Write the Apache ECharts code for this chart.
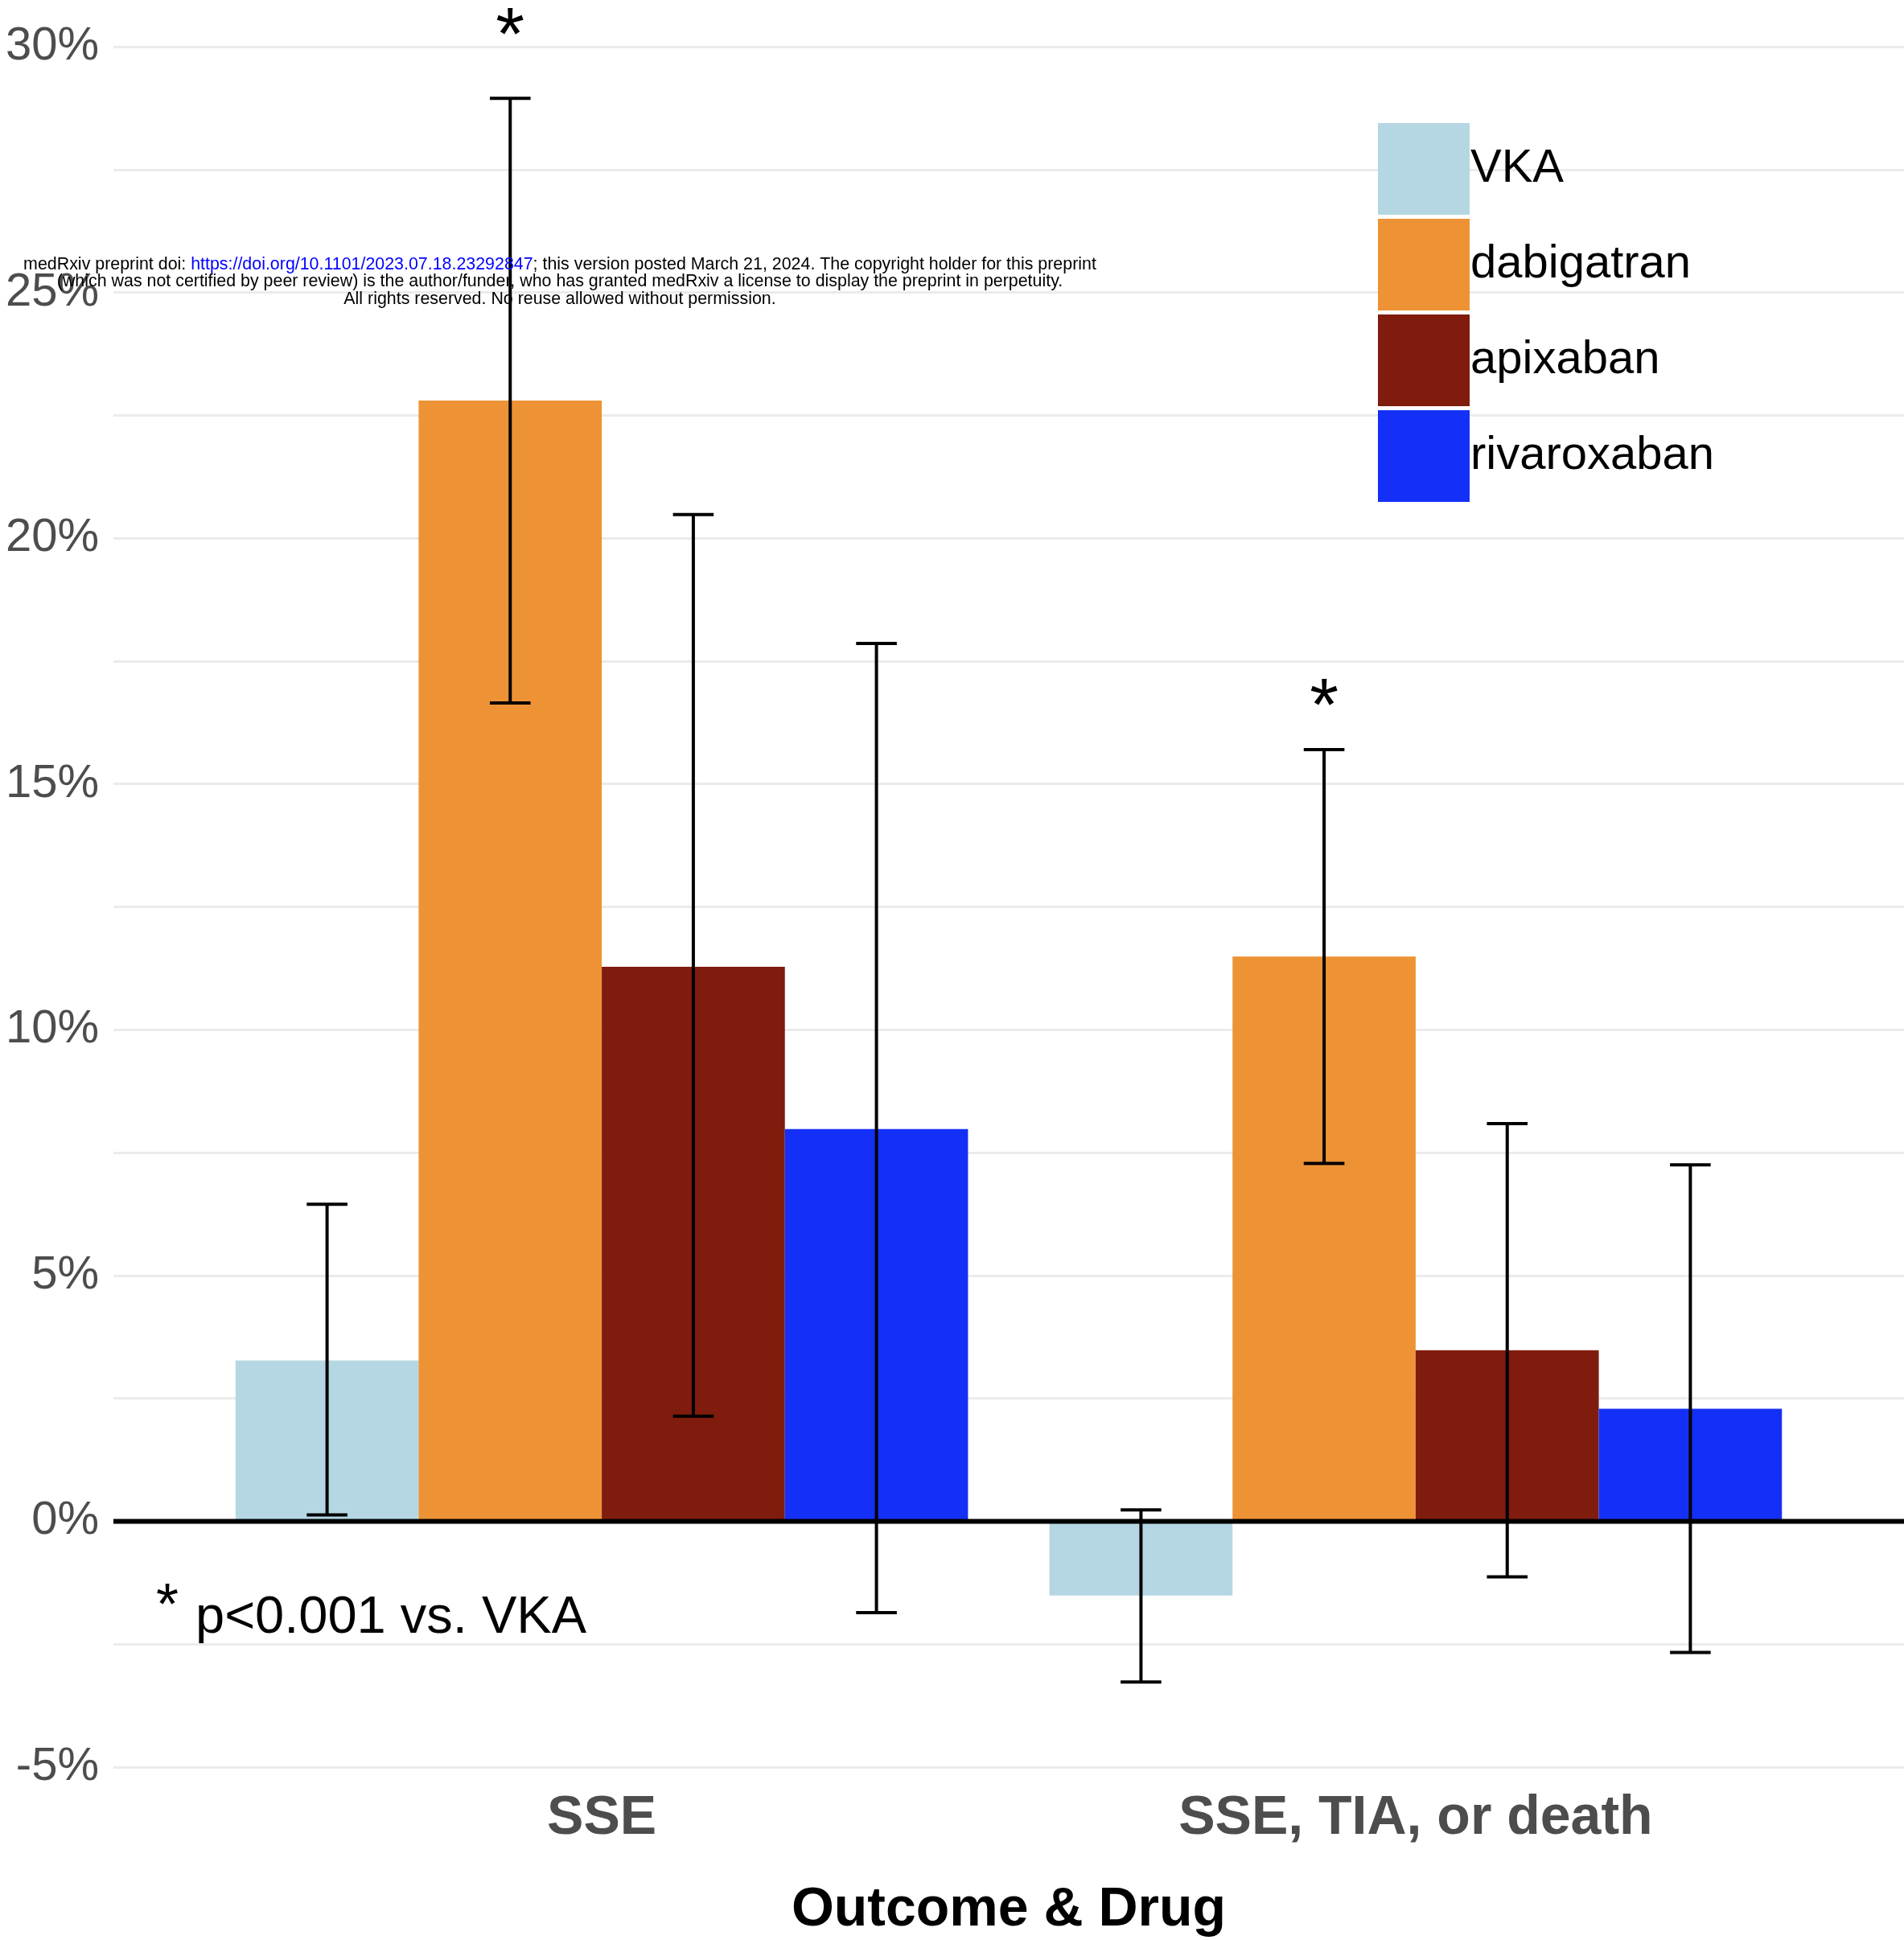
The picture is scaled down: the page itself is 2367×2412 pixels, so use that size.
<!DOCTYPE html>
<html>
<head>
<meta charset="utf-8">
<script src="https://cdn.jsdelivr.net/npm/echarts@6/dist/echarts.min.js"></script>
<style>html,body{margin:0;padding:0;background:#fff}#c{width:2367px;height:2412px}</style>
</head>
<body>
<div id="c"></div>
<script>
// ---- data ----
const categories = ['SSE', 'SSE, TIA, or death'];
const drugs = ['VKA', 'dabigatran', 'apixaban', 'rivaroxaban'];
const yTicks = [-5, 0, 5, 10, 15, 20, 25, 30];

const vka = [3.27, -1.51];
const dabigatran = [22.8, 11.49];
const apixaban = [11.28, 3.48];
const rivaroxaban = [7.98, 2.29];

const vkaLow = [0.13, -3.27];
const vkaHigh = [6.45, 0.23];
const dabigatranLow = [16.65, 7.28];
const dabigatranHigh = [28.95, 15.7];
const apixabanLow = [2.14, -1.13];
const apixabanHigh = [20.48, 8.09];
const rivaroxabanLow = [-1.86, -2.67];
const rivaroxabanHigh = [17.86, 7.25];

const starLabels = ['*', '*'];          // significance marks on dabigatran
const starY = [30.45, 16.8];

const noteText = 'p<0.001 vs. VKA';
const xTitle = 'Outcome & Drug';

// ---- build ----
const values = [vka, dabigatran, apixaban, rivaroxaban];
const lows = [vkaLow, dabigatranLow, apixabanLow, rivaroxabanLow];
const highs = [vkaHigh, dabigatranHigh, apixabanHigh, rivaroxabanHigh];
const colors = ['#b5d7e3', '#ee9335', '#7f1c0e', '#1430f7'];
const BW = 0.225;   // dodge width per bar (0.9 / 4)
const CAP = 0.05;   // error-bar cap width
const FONT = '"Liberation Sans", Arial, Helvetica, sans-serif';

function barRender(di) {
  return function (params, api) {
    const c = api.value(0) + (di - 1.5) * BW;
    const v = api.value(1);
    const p0 = api.coord([c - BW / 2, Math.max(v, 0)]);
    const p1 = api.coord([c + BW / 2, Math.min(v, 0)]);
    return {
      type: 'rect',
      shape: { x: p0[0], y: p0[1], width: p1[0] - p0[0], height: p1[1] - p0[1] },
      style: { fill: colors[di] }
    };
  };
}

const series = drugs.map((name, di) => ({
  name: name,
  type: 'custom',
  itemStyle: { color: colors[di] },
  renderItem: barRender(di),
  encode: { x: 0, y: 1 },
  data: categories.map((cat, ci) => [ci + 1, values[di][ci]]),
  z: 2
}));

series.push({
  name: 'zero',
  type: 'custom',
  silent: true,
  renderItem: function (params, api) {
    const y = api.coord([1, 0])[1];
    const cs = params.coordSys;
    return {
      type: 'line',
      shape: { x1: cs.x, y1: y, x2: cs.x + cs.width, y2: y },
      style: { stroke: '#000', lineWidth: 6 }
    };
  },
  data: [[1, 0]],
  z: 3
});

const errData = [];
drugs.forEach((d, di) => categories.forEach((c, ci) => {
  errData.push([ci + 1, di, lows[di][ci], highs[di][ci]]);
}));
series.push({
  name: 'errors',
  type: 'custom',
  silent: true,
  renderItem: function (params, api) {
    const c = api.value(0) + (api.value(1) - 1.5) * BW;
    const pHi = api.coord([c, api.value(3)]);
    const pLo = api.coord([c, api.value(2)]);
    const hw = api.size([CAP, 0])[0] / 2;
    const st = { stroke: '#000', lineWidth: 4 };
    return {
      type: 'group',
      children: [
        { type: 'line', shape: { x1: pHi[0], y1: pHi[1], x2: pLo[0], y2: pLo[1] }, style: st },
        { type: 'line', shape: { x1: pHi[0] - hw, y1: pHi[1], x2: pHi[0] + hw, y2: pHi[1] }, style: st },
        { type: 'line', shape: { x1: pLo[0] - hw, y1: pLo[1], x2: pLo[0] + hw, y2: pLo[1] }, style: st }
      ]
    };
  },
  encode: { x: 0, y: [2, 3] },
  data: errData,
  z: 4
});

series.push({
  name: 'stars',
  type: 'custom',
  silent: true,
  clip: false,
  renderItem: function (params, api) {
    const c = api.value(0) + (1 - 1.5) * BW;
    const p = api.coord([c, api.value(1)]);
    const fs = 92;
    return {
      type: 'text',
      x: p[0], y: p[1] + 0.2 * fs,
      style: { text: starLabels[params.dataIndex], fontSize: fs, fontFamily: FONT, fill: '#000', align: 'center', verticalAlign: 'middle' }
    };
  },
  encode: { x: 0, y: 1 },
  data: categories.map((c, ci) => [ci + 1, starY[ci]]),
  z: 5
});

const chart = echarts.init(document.getElementById('c'), null, { renderer: 'canvas' });
chart.setOption({
  animation: false,
  backgroundColor: '#ffffff',
  textStyle: { fontFamily: FONT },
  grid: { left: 141, right: 0, top: 58, bottom: 215, outerBoundsMode: 'none', containLabel: false },
  legend: {
    data: drugs,
    orient: 'vertical',
    left: 1713, top: 153,
    itemWidth: 114, itemHeight: 114, itemGap: 5,
    icon: 'rect',
    padding: 0,
    textStyle: { fontSize: 58, color: '#000', fontFamily: FONT, padding: [12, 0, 0, -4] },
    selectedMode: false
  },
  xAxis: {
    type: 'value',
    min: 0.4, max: 2.6,
    splitLine: { show: false },
    axisLine: { show: false },
    axisTick: { show: false },
    axisLabel: {
      customValues: categories.map((c, i) => i + 1),
      formatter: v => categories[Math.round(v) - 1] || '',
      fontSize: 68, fontWeight: 'bold', color: '#4d4d4d', margin: 30, fontFamily: FONT
    },
    name: xTitle,
    nameLocation: 'middle',
    nameGap: 144,
    nameTextStyle: { fontSize: 68, fontWeight: 'bold', color: '#000', fontFamily: FONT }
  },
  yAxis: {
    type: 'value',
    min: -5, max: 30, interval: 2.5,
    axisLine: { show: false },
    axisTick: { show: false },
    splitLine: { show: true, lineStyle: { color: '#ebebeb', width: 3 } },
    axisLabel: {
      formatter: v => (yTicks.indexOf(v) >= 0 ? v + '%' : ''),
      fontSize: 58, color: '#4d4d4d', margin: 18, fontFamily: FONT,
      padding: [8, 0, 0, 0]
    }
  },
  graphic: [
    {
      type: 'text', x: 696, y: 329,
      style: {
        text: '{a|medRxiv preprint doi: }{b|https://doi.org/10.1101/2023.07.18.23292847}{a|; this version posted March 21, 2024. The copyright holder for this preprint}',
        rich: { a: { fontSize: 21.4, fill: '#000', fontFamily: FONT }, b: { fontSize: 21.4, fill: '#0000ff', fontFamily: FONT } },
        align: 'center', verticalAlign: 'middle'
      },
      z: 10
    },
    {
      type: 'text', x: 696, y: 350,
      style: { text: '(which was not certified by peer review) is the author/funder, who has granted medRxiv a license to display the preprint in perpetuity.', fontSize: 21.4, fill: '#000', fontFamily: FONT, align: 'center', verticalAlign: 'middle' },
      z: 10
    },
    {
      type: 'text', x: 696, y: 372,
      style: { text: 'All rights reserved. No reuse allowed without permission.', fontSize: 21.4, fill: '#000', fontFamily: FONT, align: 'center', verticalAlign: 'middle' },
      z: 10
    },
    {
      type: 'text', x: 208, y: 1985 + 0.2 * 72,
      style: { text: '*', fontSize: 72, fill: '#000', fontFamily: FONT, align: 'center', verticalAlign: 'middle' },
      z: 10
    },
    {
      type: 'text', x: 243, y: 2036 - 24,
      style: { text: noteText, fontSize: 65, fill: '#000', fontFamily: FONT, align: 'left', verticalAlign: 'middle' },
      z: 10
    }
  ],
  series: series
});
</script>
</body>
</html>
